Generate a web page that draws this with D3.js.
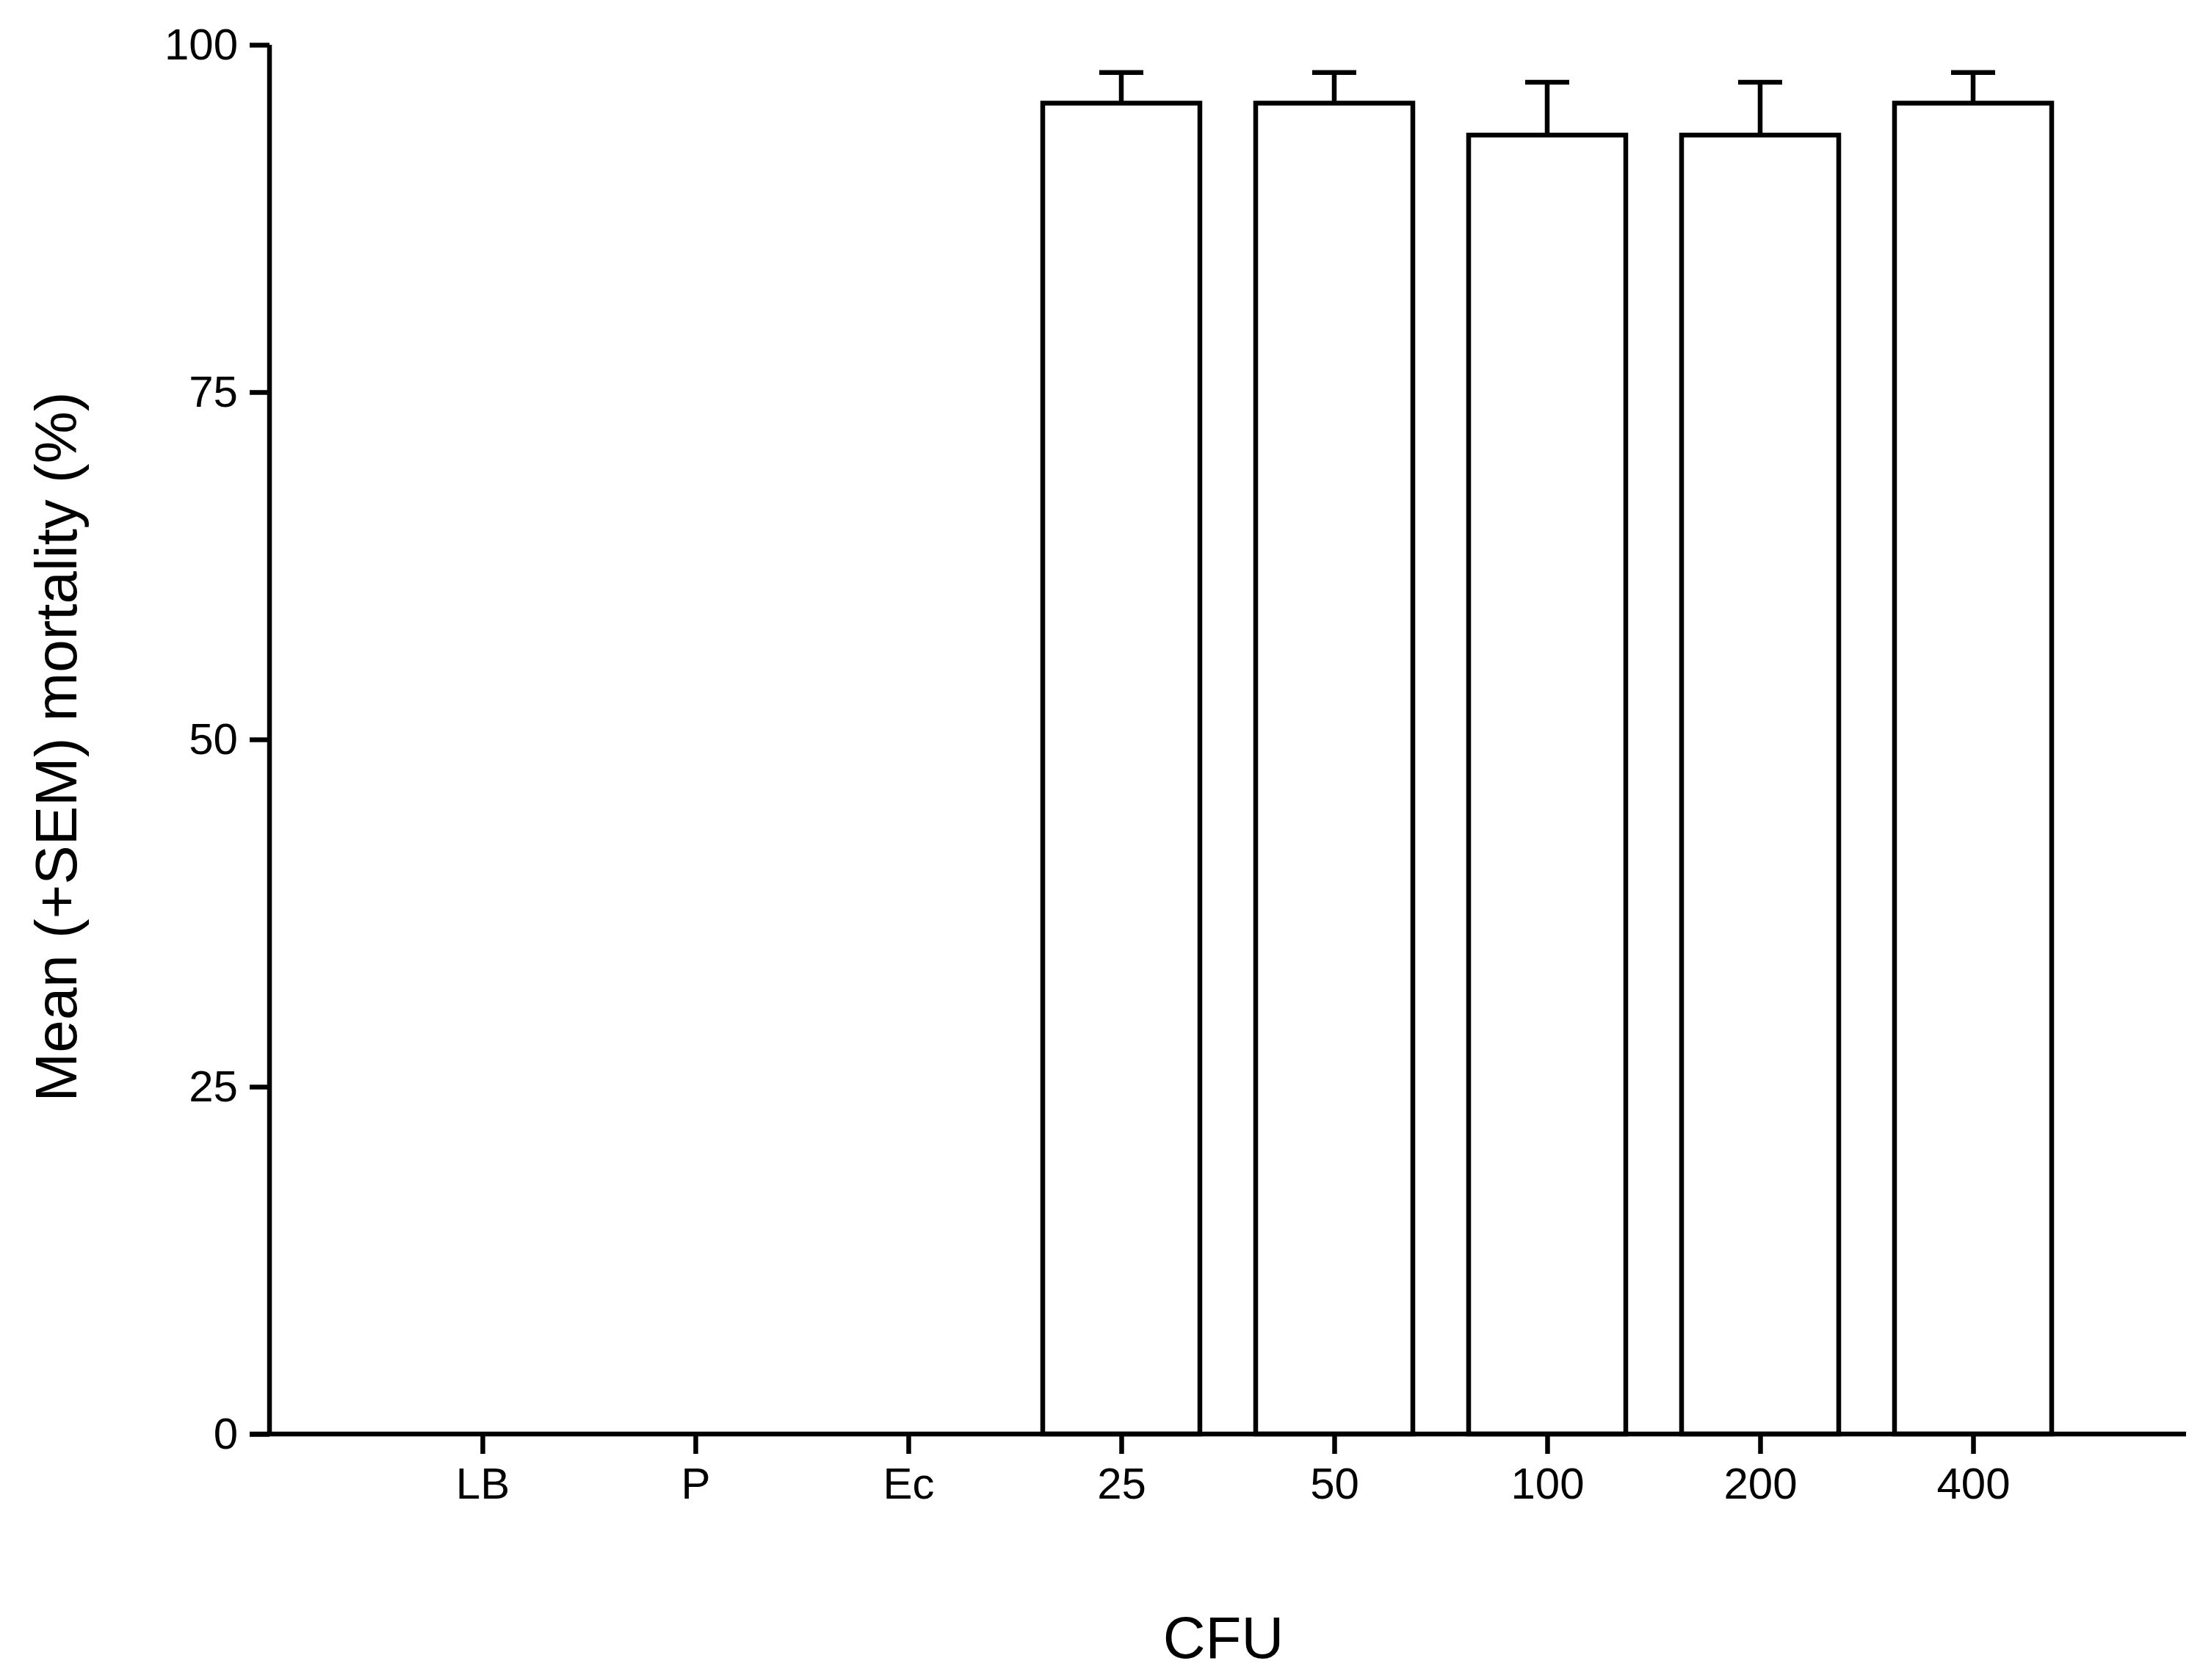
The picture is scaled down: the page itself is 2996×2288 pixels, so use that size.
<!DOCTYPE html>
<html><head><meta charset="utf-8">
<script src="https://cdn.jsdelivr.net/npm/d3@7"></script>
<style>body{margin:0;background:#fff}</style></head>
<body><svg id="c" width="2996" height="2288"></svg>
<script>
const categories = ["LB","P","Ec","25","50","100","200","400"];
const means = [0,0,0,95.8,95.8,93.5,93.5,95.8];
const sems = [0,0,0,2.2,2.2,3.8,3.8,2.2];
const yTicks = [0,25,50,75,100];

const svg = d3.select("#c");
const x0 = 367, x1 = 2977, yTop = 61, yBot = 1953;
const step = (x1 - x0) / 9;
const x = d3.scalePoint().domain(categories).range([x0 + step, x0 + 8 * step]);
const y = d3.scaleLinear().domain([0,100]).range([yBot, yTop]);
const bw = 214, lw = 6.5, font = "Liberation Sans, Arial, sans-serif";

const g = svg.append("g");
categories.forEach((c,i)=>{
  if (means[i] <= 0) return;
  const cx = x(c);
  g.append("line").attr("x1",cx).attr("x2",cx).attr("y1",y(means[i])).attr("y2",y(means[i]+sems[i])).attr("stroke","#000").attr("stroke-width",lw);
  g.append("line").attr("x1",cx-30).attr("x2",cx+30).attr("y1",y(means[i]+sems[i])).attr("y2",y(means[i]+sems[i])).attr("stroke","#000").attr("stroke-width",lw);
  g.append("rect").attr("x",cx-bw/2).attr("y",y(means[i])).attr("width",bw).attr("height",y(0)-y(means[i])).attr("fill","#fff").attr("stroke","#000").attr("stroke-width",lw);
});
const ya = svg.append("g").attr("transform",`translate(${x0},0)`).call(d3.axisLeft(y).tickValues(yTicks).tickSize(27).tickPadding(16));
ya.select(".domain").attr("stroke-width",lw).attr("d",`M0,${yTop}V${yBot}`);
ya.selectAll(".tick line").attr("stroke-width",lw);
ya.selectAll("text").attr("font-size",60).attr("font-family",font).attr("fill","#000");
const xa = svg.append("g").attr("transform",`translate(0,${yBot})`).call(d3.axisBottom(x).tickSize(27).tickPadding(18));
xa.select(".domain").attr("stroke-width",lw).attr("d",`M${x0-27},0H${x1}`);
xa.selectAll(".tick line").attr("stroke-width",lw);
xa.selectAll("text").attr("font-size",60).attr("font-family",font).attr("fill","#000");
svg.append("text").attr("x",(x0+x1)/2 - 6).attr("y",2258).attr("text-anchor","middle").attr("font-size",80).attr("font-family",font).text("CFU");
svg.append("text").attr("transform",`translate(104,${(yTop+yBot)/2 + 10}) rotate(-90)`).attr("text-anchor","middle").attr("font-size",80).attr("font-family",font).text("Mean (+SEM) mortality (%)");
</script></body></html>
